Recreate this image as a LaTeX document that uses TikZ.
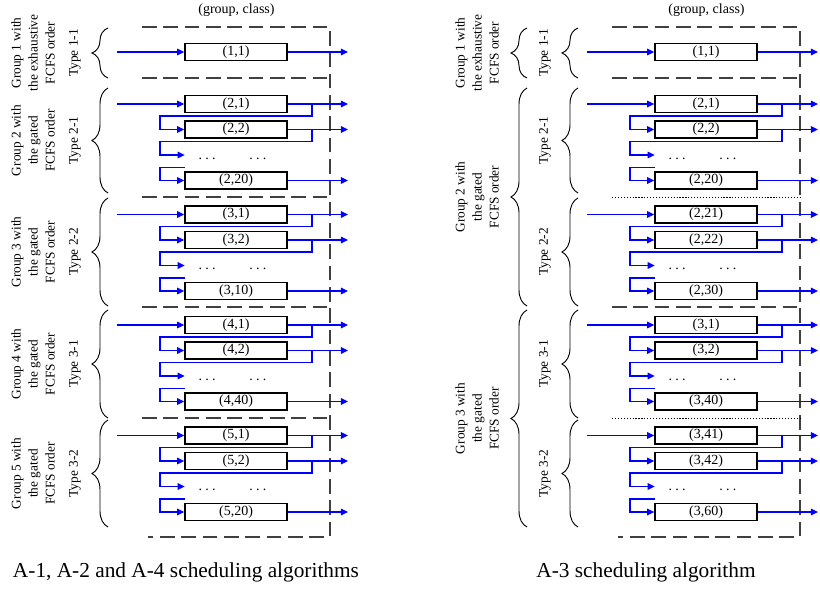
\documentclass[tikz,border=0pt]{standalone}
\usepackage{fontspec}
\setmainfont{Liberation Serif}
\usetikzlibrary{arrows.meta,decorations.pathreplacing}
\newcommand{\mydots}{.\kern2.4pt.\kern2.4pt.}
% #1 name prefix, #2 x offset, #3 y of first row, #4 #5 #6 box labels
\newcommand{\typeblock}[6]{%
  \node[box] (#1a) at ({#2+236},{#3}) {#4};
  \node[box] (#1b) at ({#2+236},{#3+25.5}) {#5};
  \node[dotrow] (#1c) at ({#2+232.5},{#3+51}) {\mydots\hspace{25.3pt}\mydots};
  \node[box] (#1d) at ({#2+236},{#3+76.5}) {#6};
  \coordinate (#1in) at ({#2+117},{#3});
  \coordinate (#1oa) at ({#2+348},{#3});
  \coordinate (#1ob) at ({#2+348},{#3+25.5});
  \coordinate (#1od) at ({#2+348},{#3+76.5});
  \coordinate (#1fa) at ({#2+312},{#3});
  \coordinate (#1fb) at ({#2+312},{#3+25.5});
  \coordinate (#1s) at ({#2+185},{#3+63.5});
  \draw[arr] (#1in) -- (#1a);
  \draw[arr] (#1a) -- (#1oa);
  \draw[arr] (#1b) -- (#1ob);
  \draw[arr] (#1d) -- (#1od);
  \draw[arr] (#1fa) |- ({#2+160},{#3+12}) |- (#1b);
  \draw[arr] (#1fb) |- ({#2+160},{#3+37.5}) |- (#1c);
  \draw[arr] (#1s) -- ({#2+160},{#3+63.5}) |- (#1d);
}
\begin{document}
\begin{tikzpicture}[x=0.75pt,y=-0.75pt,
  box/.style={draw=black,line width=1.1pt,minimum width=76.5pt,minimum height=12.75pt,inner sep=0pt,
    font=\fontsize{10.5}{12}\selectfont},
  dotrow/.style={inner xsep=10.3pt,inner ysep=0pt,text height=7pt,text depth=1pt,
    font=\fontsize{10.5}{12}\selectfont},
  flow/.style={draw=blue,line width=0.8pt},
  arr/.style={flow,-{Triangle[length=5.3pt,width=5pt]}},
  sep/.style={draw=black!75,line width=0.9pt,dash pattern=on 11pt off 5pt},
  dotsep/.style={draw=black,line width=0.6pt,dash pattern=on 0.9pt off 1.3pt},
  mybrace/.style={draw=black,line width=0.7pt,decorate,decoration={brace,amplitude=12pt}},
  rot/.style={rotate=90,align=center,inner sep=0pt,font=\fontsize{10}{12.75}\selectfont},
  headtext/.style={font=\fontsize{10.5}{12}\selectfont},
  captext/.style={font=\fontsize{16}{18}\selectfont}
]
\useasboundingbox (0,0) rectangle (820,592);

% ---------------- left panel ----------------
\node[headtext] (Lhead) at (236.5,10) {(group, class)};
\draw[sep] (142,27) -- (330,27) -- (330,537) -- (148,537);
\draw[sep] (142,78) -- (330,78);
\draw[sep] (142,197) -- (330,197);
\draw[sep] (142,307) -- (330,307);
\draw[sep] (142,418) -- (330,418);

\node[box] (L1a) at (236,52) {(1,1)};
\coordinate (L1in) at (117,52);
\coordinate (L1oa) at (348,52);
\draw[arr] (L1in) -- (L1a);
\draw[arr] (L1a) -- (L1oa);

\typeblock{L2}{0}{104}{(2,1)}{(2,2)}{(2,20)}
\typeblock{L3}{0}{214.5}{(3,1)}{(3,2)}{(3,10)}
\typeblock{L4}{0}{325}{(4,1)}{(4,2)}{(4,40)}
\typeblock{L5}{0}{435.5}{(5,1)}{(5,2)}{(5,20)}

\draw[mybrace] (108,78) -- (108,28);
\draw[mybrace] (108,193) -- (108,88);
\draw[mybrace] (108,306) -- (108,198);
\draw[mybrace] (108,418) -- (108,310);
\draw[mybrace] (108,527) -- (108,420);

\node[rot] (Lt1) at (75,53) {Type 1-1};
\node[rot] (Lt2) at (75,140.5) {Type 2-1};
\node[rot] (Lt3) at (75,252) {Type 2-2};
\node[rot] (Lt4) at (75,364) {Type 3-1};
\node[rot] (Lt5) at (75,473.5) {Type 3-2};

\node[rot] (Lg1) at (33,53) {Group 1 with\\the exhaustive\\FCFS order};
\node[rot] (Lg2) at (33,140.5) {Group 2 with\\the gated\\FCFS order};
\node[rot] (Lg3) at (33,252) {Group 3 with\\the gated\\FCFS order};
\node[rot] (Lg4) at (33,364) {Group 4 with\\the gated\\FCFS order};
\node[rot] (Lg5) at (33,473.5) {Group 5 with\\the gated\\FCFS order};

\node[captext] (Lcap) at (186,572) {A-1, A-2 and A-4 scheduling algorithms};

% ---------------- right panel ----------------
\node[headtext] (Rhead) at (706.5,10) {(group, class)};
\draw[sep] (612,27) -- (800,27) -- (800,537) -- (618,537);
\draw[sep] (612,78) -- (800,78);
\draw[dotsep] (612,197) -- (800,197);
\draw[sep] (612,307) -- (800,307);
\draw[dotsep] (612,418) -- (800,418);

\node[box] (R1a) at (706,52) {(1,1)};
\coordinate (R1in) at (587,52);
\coordinate (R1oa) at (818,52);
\draw[arr] (R1in) -- (R1a);
\draw[arr] (R1a) -- (R1oa);

\typeblock{R2}{470}{104}{(2,1)}{(2,2)}{(2,20)}
\typeblock{R3}{470}{214.5}{(2,21)}{(2,22)}{(2,30)}
\typeblock{R4}{470}{325}{(3,1)}{(3,2)}{(3,40)}
\typeblock{R5}{470}{435.5}{(3,41)}{(3,42)}{(3,60)}

\draw[mybrace] (578,78) -- (578,28);
\draw[mybrace] (578,193) -- (578,88);
\draw[mybrace] (578,306) -- (578,198);
\draw[mybrace] (578,418) -- (578,310);
\draw[mybrace] (578,527) -- (578,420);

\draw[mybrace] (527,78) -- (527,28);
\draw[mybrace] (527,306) -- (527,88);
\draw[mybrace] (527,527) -- (527,310);

\node[rot] (Rt1) at (545,53) {Type 1-1};
\node[rot] (Rt2) at (545,140.5) {Type 2-1};
\node[rot] (Rt3) at (545,252) {Type 2-2};
\node[rot] (Rt4) at (545,364) {Type 3-1};
\node[rot] (Rt5) at (545,473.5) {Type 3-2};

\node[rot] (Rg1) at (477,53) {Group 1 with\\the exhaustive\\FCFS order};
\node[rot] (Rg2) at (477,197) {Group 2 with\\the gated\\FCFS order};
\node[rot] (Rg3) at (477,418.5) {Group 3 with\\the gated\\FCFS order};

\node[captext] (Rcap) at (646,572) {A-3 scheduling algorithm};
\end{tikzpicture}
\end{document}
